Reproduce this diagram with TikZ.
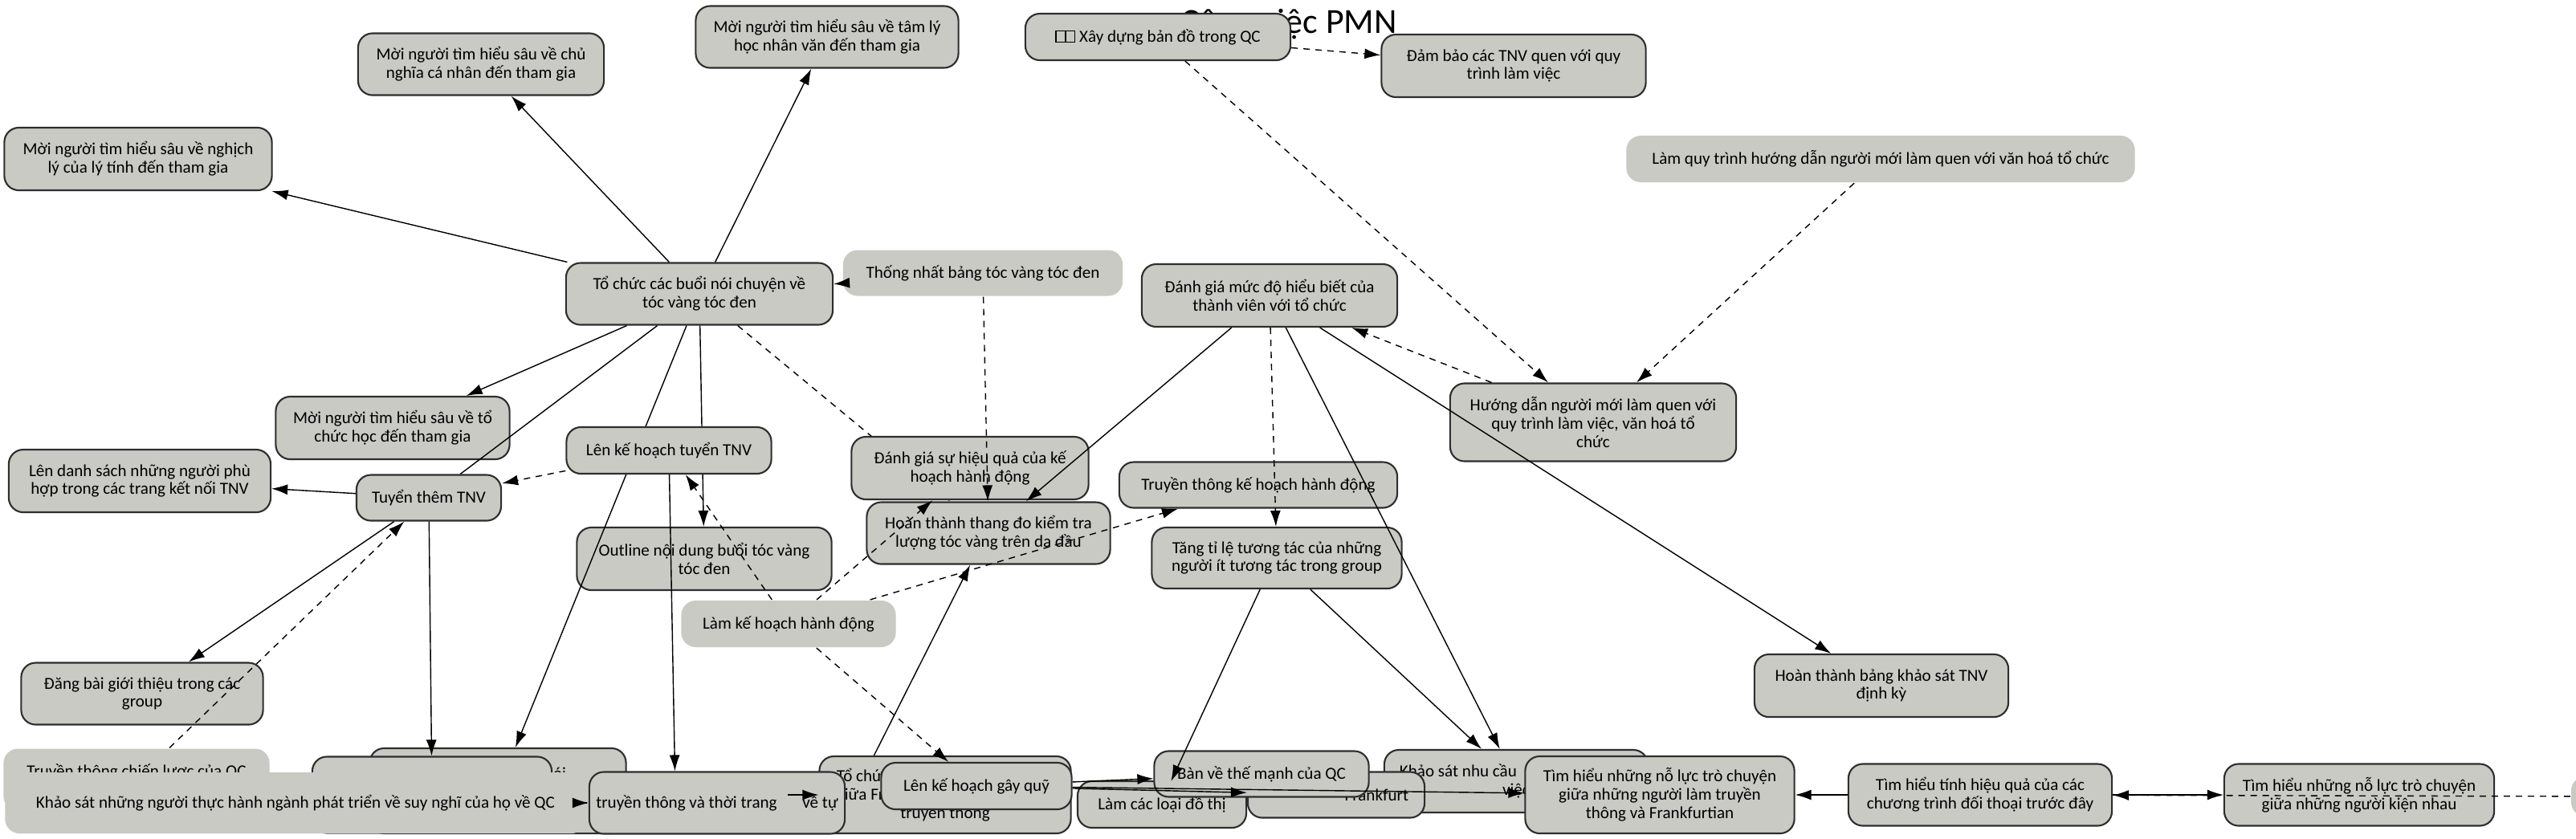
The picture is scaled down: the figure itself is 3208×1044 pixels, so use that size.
\documentclass[tikz,border=0pt]{standalone}
\usepackage{fontspec}
\setmainfont{Carlito}
\usetikzlibrary{arrows.meta,calc}
\definecolor{boxfill}{HTML}{C8CAC3}
\definecolor{boxline}{HTML}{2E2E2E}
% missing-glyph boxes in front of the map title
\newcommand{\tofubox}{{\setlength{\fboxsep}{0pt}\setlength{\fboxrule}{0.35pt}\fbox{\rule{0pt}{1.3ex}\hspace{1ex}}}}

\begin{document}
\begin{tikzpicture}[x=0.01cm, y=-0.01cm,
  task/.style={draw=boxline, line width=0.6pt, fill=boxfill, rounded corners=0.18cm, align=center, inner sep=1pt, font=\fontsize{6}{6.5}\selectfont},
  note/.style={task, draw=none},
  arr/.style={-{Latex[length=2mm,width=1.3mm]}, line width=0.4pt},
  darr/.style={arr, dash pattern=on 0.8mm off 0.7mm},
  dline/.style={line width=0.4pt, dash pattern=on 0.8mm off 0.7mm}]
\useasboundingbox (0,0) rectangle (3208,1044);

\node[font=\fontsize{12.5}{14}\selectfont] (title) at (1605,30) {Công việc PMN};

\node[task, minimum width=3.33cm, minimum height=0.78cm] (nghich) at (172,198) {Mời người tìm hiểu sâu về nghịch\\lý của lý tính đến tham gia};
\node[task, minimum width=3.06cm, minimum height=0.77cm] (canhan) at (599,80) {Mời người tìm hiểu sâu về chủ\\nghĩa cá nhân đến tham gia};
\node[task, minimum width=3.27cm, minimum height=0.77cm] (tamly) at (1030,46) {Mời người tìm hiểu sâu về tâm lý\\học nhân văn đến tham gia};
\node[task, minimum width=3.32cm, minimum height=0.77cm] (hub) at (871,366) {Tổ chức các buổi nói chuyện về\\tóc vàng tóc đen};
\node[note, minimum width=3.48cm, minimum height=0.57cm] (thongnhat) at (1224,340) {Thống nhất bảng tóc vàng tóc đen};
\node[task, minimum width=3.30cm, minimum height=0.58cm] (bando) at (1442,46) {\tofubox\tofubox\ Xây dựng bản đồ trong QC};
\node[task, minimum width=3.29cm, minimum height=0.78cm] (dambao) at (1885,82) {Đảm bảo các TNV quen với quy\\trình làm việc};
\node[task, minimum width=3.18cm, minimum height=0.78cm] (danhgia) at (1581,368) {Đánh giá mức độ hiểu biết của\\thành viên với tổ chức};
\node[note, minimum width=6.33cm, minimum height=0.58cm] (lamquytrinh) at (2342,198) {Làm quy trình hướng dẫn người mới làm quen với văn hoá tổ chức};
\node[task, minimum width=2.91cm, minimum height=0.78cm] (tochuchoc) at (489,533) {Mời người tìm hiểu sâu về tổ\\chức học đến tham gia};
\node[task, minimum width=3.26cm, minimum height=0.78cm] (danhsach) at (174,599) {Lên danh sách những người phù\\hợp trong các trang kết nối TNV};
\node[task, minimum width=1.80cm, minimum height=0.57cm] (tuyenthem) at (534,620) {Tuyển thêm TNV};
\node[task, minimum width=3.17cm, minimum height=0.78cm] (outline) at (877,696) {Outline nội dung buổi tóc vàng\\tóc đen};
\node[task, minimum width=3.03cm, minimum height=0.77cm] (thangdo) at (1231,664) {Hoàn thành thang đo kiểm tra\\lượng tóc vàng trên da đầu};
\node[task, minimum width=3.19cm, minimum height=1.06cm] (boxB) at (620,985) {\makebox[1.7cm][r]{buổi nói}\\~\\~};

% these run behind the boxes drawn next
\draw[arr] (hub) -- (boxB);
\draw[arr] (hub) -- (outline);
\draw[darr] (hub) -- (thangdo);

\node[task, minimum width=2.55cm, minimum height=0.58cm] (kehoachtuyen) at (833,561) {Lên kế hoạch tuyển TNV};
\node[task, minimum width=2.95cm, minimum height=0.78cm] (hieuqua) at (1208,583) {Đánh giá sự hiệu quả của kế\\hoạch hành động};
\node[note, minimum width=2.67cm, minimum height=0.58cm] (lamkehoach) at (982,777) {Làm kế hoạch hành động};
\node[task, minimum width=3.46cm, minimum height=0.57cm] (ttkehoach) at (1567,604) {Truyền thông kế hoạch hành động};
\node[task, minimum width=3.11cm, minimum height=0.76cm] (tangti) at (1590,695) {Tăng tỉ lệ tương tác của những\\người ít tương tác trong group};
\node[task, minimum width=3.56cm, minimum height=0.97cm] (huongdan) at (1984,526) {Hướng dẫn người mới làm quen với\\quy trình làm việc, văn hoá tổ\\chức};
\node[task, minimum width=3.16cm, minimum height=0.78cm] (bangkhaosat) at (2343,854) {Hoàn thành bảng khảo sát TNV\\định kỳ};
\node[task, minimum width=3.01cm, minimum height=0.77cm] (dangbai) at (177,864) {Đăng bài giới thiệu trong các\\group};
\node[task, minimum width=2.98cm, minimum height=0.95cm] (boxA) at (538,990) {};
\node[note, minimum width=3.31cm, minimum height=0.77cm] (chienluoc) at (170,971) {Truyền thông chiến lược của QC\\~};
\node[note, minimum width=7.23cm, minimum height=0.76cm] (khaosat) at (368,1000) {Khảo sát những người thực hành ngành phát triển về suy nghĩ của họ về QC};
\node[task, minimum width=3.13cm, minimum height=0.96cm] (tcF) at (1177,990) {\makebox[2.7cm][l]{Tổ chức}\\\makebox[2.7cm][l]{giữa Fr}\\truyền thông};
\node[task, minimum width=3.18cm, minimum height=0.77cm] (truyenthong) at (893,1000) {truyền thông và thời trang\hspace{1.5em}về tự};
\node[task, minimum width=2.37cm, minimum height=0.58cm] (gayquy) at (1216,979) {Lên kế hoạch gây quỹ};
\node[task, minimum width=2.10cm, minimum height=0.58cm] (dothi) at (1447,1002) {Làm các loại đồ thị};
\node[task, minimum width=3.28cm, minimum height=0.78cm] (nhucau) at (1888,973) {\makebox[2.9cm][l]{Khảo sát nhu cầu}\\việc};
\node[task, minimum width=2.20cm, minimum height=0.57cm] (frank) at (1664,990) {\makebox[1.8cm][r]{Frankfurt}};
\node[task, minimum width=2.67cm, minimum height=0.57cm] (banve) at (1571,964) {Bàn về thế mạnh của QC};
\node[task, minimum width=3.35cm, minimum height=0.96cm] (frankfurtian) at (2067,990) {Tìm hiểu những nỗ lực trò chuyện\\giữa những người làm truyền\\thông và Frankfurtian};
\node[task, minimum width=3.28cm, minimum height=0.77cm] (tinhhieuqua) at (2466,990) {Tìm hiểu tính hiệu quả của các\\chương trình đối thoại trước đây};
\node[task, minimum width=3.36cm, minimum height=0.77cm] (kiennhau) at (2938,990) {Tìm hiểu những nỗ lực trò chuyện\\giữa những người kiện nhau};
\node[note, minimum width=1.20cm, minimum height=0.50cm] (canhphai) at (3262,992) {};
\coordinate (vetu) at (981,990);

\draw[arr] (hub) -- (nghich);
\draw[arr] (hub) -- (canhan);
\draw[arr] (hub) -- (tamly);
\draw[arr] (thongnhat) -- (hub);
\draw[arr] (hub) -- (tochuchoc);
\draw[line width=0.4pt] (hub) -- (tuyenthem);
\draw[darr] (thongnhat) -- (thangdo);
\draw[arr] (danhgia) -- (thangdo);
\draw[darr] (lamkehoach) -- (hieuqua);
\draw[darr] (lamkehoach) -- (kehoachtuyen);
\draw[darr] (lamkehoach) -- (ttkehoach);
\draw[darr] (lamkehoach) -- (gayquy);
\draw[darr] (chienluoc) -- (tuyenthem);
\draw[arr] (tuyenthem) -- (dangbai);
\draw[arr] (tuyenthem) -- (danhsach);
\draw[darr] (kehoachtuyen) -- (tuyenthem);
\draw[arr] (tuyenthem) -- (boxA);
\draw[arr] (kehoachtuyen) -- (truyenthong.143);
\draw[arr] (tcF.151) -- (thangdo.-120);
\draw[darr] (danhgia) -- (tangti);
\draw[arr] (danhgia) -- (nhucau);
\draw[arr] (danhgia) -- (bangkhaosat);
\draw[arr] (tangti) -- (nhucau);
\draw[arr] (tangti.-118) -- ($(banve.west)+(22,9)$);
\draw[darr] (huongdan) -- (danhgia);
\draw[darr] (bando) -- (dambao);
\draw[darr] (bando) -- (huongdan);
\draw[darr] (lamquytrinh) -- (huongdan);
\draw[arr] (khaosat) -- (truyenthong);
\draw[arr] (vetu) -- (tcF.west);
\draw[arr] (gayquy) -- (banve);
\draw[arr] (gayquy) -- (frank);
\draw[arr] (gayquy) -- (frankfurtian);
\draw[arr] (tinhhieuqua) -- (frankfurtian);
\draw[arr] (tinhhieuqua) -- (kiennhau);
\draw[darr] (canhphai) -- (tinhhieuqua);
\end{tikzpicture}
\end{document}
